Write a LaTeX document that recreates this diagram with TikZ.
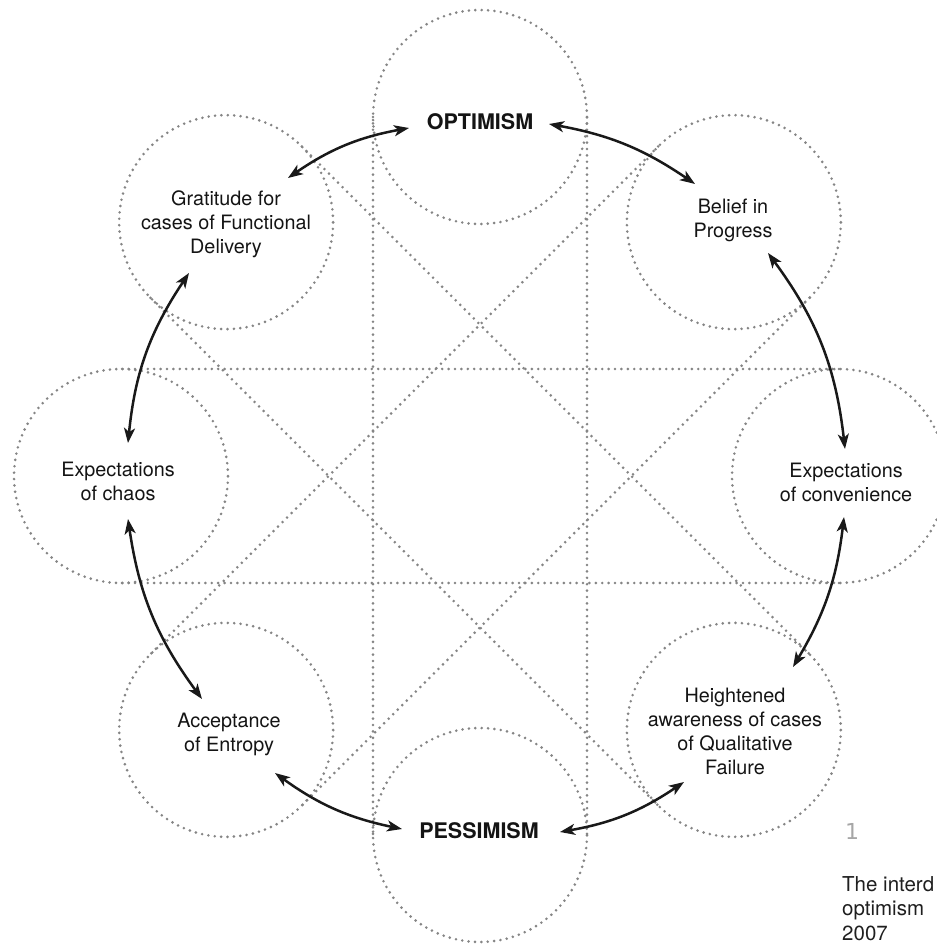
\documentclass[tikz,border=0pt]{standalone}
\usepackage{fontspec}
\setmainfont{TeX Gyre Heros}
\newfontfamily\numfont{DejaVu Sans}
\usetikzlibrary{arrows.meta,calc}

\begin{document}
\begin{tikzpicture}[x=1pt,y=1pt,
  dotline/.style={draw=black!48, line width=2.9pt, line cap=round, dash pattern=on 0pt off 6.4pt},
  txt/.style={align=center, inner sep=0pt, font=\fontsize{19.8}{24}\selectfont, text=black!92},
  pole/.style={anchor=base, inner sep=0pt, font=\fontsize{21.5}{24}\selectfont\bfseries, text=black!92},
  ringarrow/.style={line width=2.5pt, draw=black!90,
    {Stealth[length=15pt,width=11pt,inset=4pt]}-{Stealth[length=15pt,width=11pt,inset=4pt]}},
  capline/.style={anchor=base west, inner sep=0pt, font=\fontsize{20.5}{24}\selectfont, text=black!88}
]
\useasboundingbox (-480,-468) rectangle (456,476);

% eight dotted circles on a ring
\foreach \a in {0,45,...,315} {
  \draw[dotline] (\a:359) circle[radius=107];
}
% each pair of opposite circles is joined by its two outer tangents
\foreach \a in {0,45,90,135} {
  \draw[dotline] ($(\a:359)+(\a+90:107)$) -- ($(\a+180:359)+(\a+90:107)$);
  \draw[dotline] ($(\a:359)+(\a-90:107)$) -- ($(\a+180:359)+(\a-90:107)$);
}

% the eight states
\node[pole] (opt) at (0,346) {OPTIMISM};
\node[pole] (pess) at (-1,-362) {PESSIMISM};
\node[txt] (grat) at (-254,252) {Gratitude for\\cases of Functional\\Delivery};
\node[txt] (belief) at (253,256) {Belief in\\Progress};
\node[txt] (conv) at (366,-6) {Expectations\\of convenience};
\node[txt] (aware) at (255,-255) {Heightened\\awareness of cases\\of Qualitative\\Failure};
\node[txt] (accept) at (-251,-258) {Acceptance\\of Entropy};
\node[txt] (chaos) at (-362,-5) {Expectations\\of chaos};

% arrow ends beside each label
\coordinate (grat-up) at (-192,298);
\coordinate (opt-l) at (-71,348);
\coordinate (opt-r) at (69,352);
\coordinate (belief-up) at (215,292);
\coordinate (belief-dn) at (288,223);
\coordinate (conv-up) at (365,27);
\coordinate (conv-dn) at (364,-41);
\coordinate (aware-up) at (313,-191);
\coordinate (aware-dn) at (204,-306);
\coordinate (pess-r) at (80,-356);
\coordinate (pess-l) at (-78,-353);
\coordinate (accept-dn) at (-205,-297);
\coordinate (accept-up) at (-278,-223);
\coordinate (chaos-dn) at (-352,-43);
\coordinate (chaos-up) at (-352,33);
\coordinate (grat-dn) at (-291,203);

% two-way arrows running round the ring
\draw[ringarrow] (grat-up) to[bend left=12] (opt-l);
\draw[ringarrow] (opt-r) to[bend left=12] (belief-up);
\draw[ringarrow] (belief-dn) to[bend left=15] (conv-up);
\draw[ringarrow] (conv-dn) to[bend left=12] (aware-up);
\draw[ringarrow] (aware-dn) to[bend left=12] (pess-r);
\draw[ringarrow] (pess-l) to[bend left=12] (accept-dn);
\draw[ringarrow] (accept-up) to[bend left=14] (chaos-dn);
\draw[ringarrow] (chaos-up) to[bend left=14] (grat-dn);

% figure number and caption
\node[anchor=base west, inner sep=0pt, font=\numfont\fontsize{22}{24}\selectfont, text=black!35] (fignum) at (365,-363) {1};
\node[capline] (cap1) at (362,-415) {The interd};
\node[capline] (cap2) at (362,-439) {optimism};
\node[capline] (cap3) at (362,-464) {2007};
\end{tikzpicture}
\end{document}
